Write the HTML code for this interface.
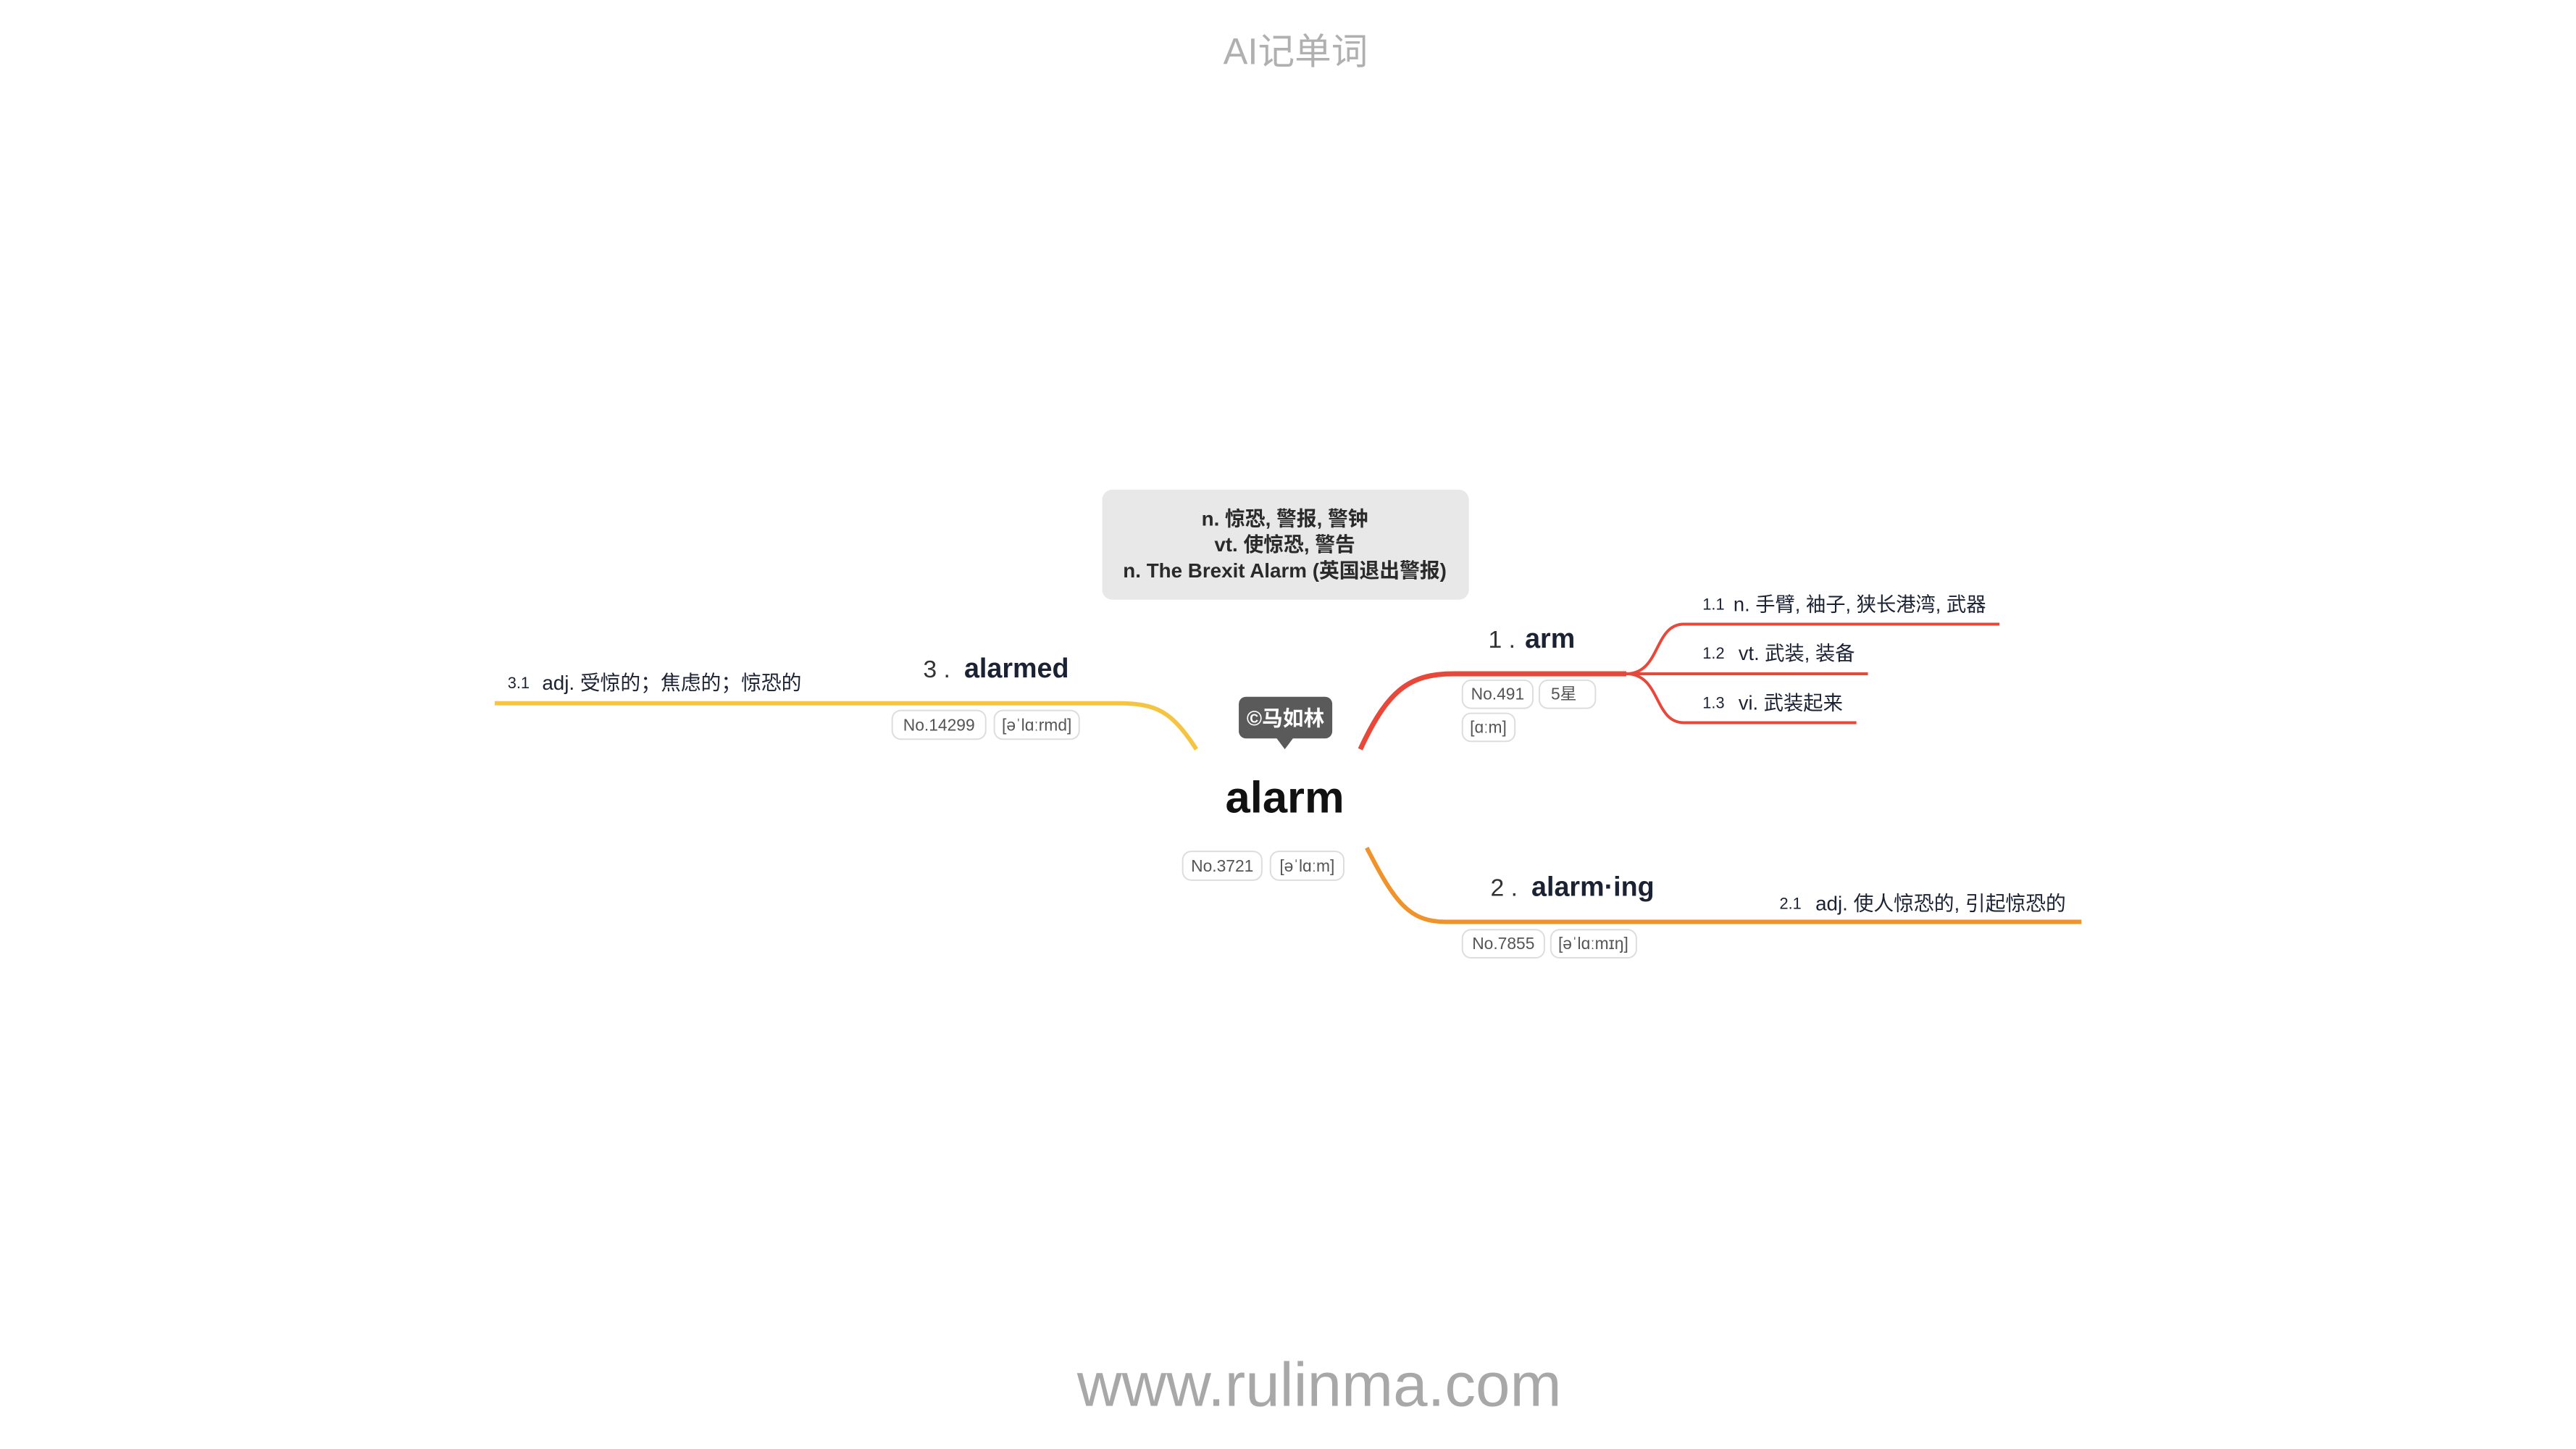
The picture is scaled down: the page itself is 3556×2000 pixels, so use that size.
<!DOCTYPE html>
<html><head><meta charset="utf-8"><style>
html,body{margin:0;padding:0;background:#fff;}
svg{display:block;}
text{font-family:"Liberation Sans","Noto Sans CJK SC",sans-serif;}
</style></head><body>
<svg width="3556" height="2000" viewBox="0 0 3556 2000" xmlns="http://www.w3.org/2000/svg">
<rect width="3556" height="2000" fill="#fff"/>
<g transform="scale(0.9925)">
<text x="1802" y="89" font-size="51" fill="#b0b0b0" text-anchor="middle">AI记单词</text>

<rect x="1533" y="681" width="510" height="153" rx="14" fill="#e8e8e8"/>
<g font-size="28" font-weight="bold" fill="#2a2a2a" text-anchor="middle">
<text x="1787" y="731">n. 惊恐, 警报, 警钟</text>
<text x="1787" y="767">vt. 使惊恐, 警告</text>
<text x="1787" y="803">n. The Brexit Alarm (英国退出警报)</text>
</g>

<rect x="1723" y="969" width="130" height="58" rx="10" fill="#5a5a5a"/>
<polygon points="1775,1026 1799,1026 1787,1042" fill="#5a5a5a"/>
<text x="1788" y="1009" font-size="29" font-weight="bold" fill="#fff" text-anchor="middle">©马如林</text>

<text x="1787" y="1130" font-size="62" font-weight="bold" fill="#111" text-anchor="middle">alarm</text>
<g font-size="23" fill="#555">
<rect x="1645" y="1184" width="110" height="40" rx="12" fill="#fff" stroke="#ddd" stroke-width="2"/>
<text x="1700" y="1212" text-anchor="middle">No.3721</text>
<rect x="1767" y="1184" width="102" height="40" rx="12" fill="#fff" stroke="#ddd" stroke-width="2"/>
<text x="1818" y="1212" text-anchor="middle">[əˈlɑːm]</text>
</g>

<path d="M1892,1042 C1930,960 1960,937 2022,937 L2262,937" fill="none" stroke="#e8473a" stroke-width="7"/>
<path d="M2262,937 C2310,937 2300,868 2342,868 L2781,868" fill="none" stroke="#e8473a" stroke-width="4"/>
<path d="M2262,937 L2598,937" fill="none" stroke="#e8473a" stroke-width="4"/>
<path d="M2262,937 C2310,937 2300,1005 2342,1005 L2582,1005" fill="none" stroke="#e8473a" stroke-width="4"/>
<text x="2070" y="901" font-size="34" fill="#333">1 .</text>
<text x="2121" y="901" font-size="38" font-weight="bold" fill="#1a2233">arm</text>
<g font-size="23" fill="#555">
<rect x="2034" y="946" width="98" height="39" rx="12" fill="#fff" stroke="#ddd" stroke-width="2"/>
<text x="2083" y="973" text-anchor="middle">No.491</text>
<rect x="2141" y="946" width="78" height="39" rx="12" fill="#fff" stroke="#ddd" stroke-width="2"/>
<text x="2175" y="973" text-anchor="middle">5星</text>
<rect x="2034" y="992" width="73" height="39" rx="12" fill="#fff" stroke="#ddd" stroke-width="2"/>
<text x="2070" y="1019" text-anchor="middle">[ɑːm]</text>
</g>
<g fill="#1a2233">
<text x="2368" y="848" font-size="22">1.1</text>
<text x="2411" y="850" font-size="27.5">n. 手臂, 袖子, 狭长港湾, 武器</text>
<text x="2368" y="916" font-size="22">1.2</text>
<text x="2418" y="918" font-size="27.5">vt. 武装, 装备</text>
<text x="2368" y="985" font-size="22">1.3</text>
<text x="2418" y="987" font-size="27.5">vi. 武装起来</text>
</g>

<path d="M1901,1179 C1940,1255 1960,1282 2011,1282 L2895,1282" fill="none" stroke="#f0932b" stroke-width="6"/>
<text x="2073" y="1246" font-size="34" fill="#333">2 .</text>
<text x="2130" y="1246" font-size="38" font-weight="bold" fill="#1a2233">alarm·ing</text>
<text x="2475" y="1264" font-size="22" fill="#1a2233">2.1</text>
<text x="2525" y="1266" font-size="28" fill="#1a2233">adj. 使人惊恐的, 引起惊恐的</text>
<g font-size="23" fill="#555">
<rect x="2034" y="1293" width="114" height="39" rx="12" fill="#fff" stroke="#ddd" stroke-width="2"/>
<text x="2091" y="1320" text-anchor="middle">No.7855</text>
<rect x="2157" y="1293" width="119" height="39" rx="12" fill="#fff" stroke="#ddd" stroke-width="2"/>
<text x="2216" y="1320" text-anchor="middle">[əˈlɑːmɪŋ]</text>
</g>

<path d="M1664,1042 C1630,990 1610,978 1554,978 L688,978" fill="none" stroke="#f5c542" stroke-width="6"/>
<text x="1284" y="942" font-size="34" fill="#333">3 .</text>
<text x="1341" y="942" font-size="38" font-weight="bold" fill="#1a2233">alarmed</text>
<text x="706" y="957" font-size="22" fill="#1a2233">3.1</text>
<text x="754" y="959" font-size="28" fill="#1a2233">adj. 受惊的；焦虑的；惊恐的</text>
<g font-size="23" fill="#555">
<rect x="1241" y="988" width="130" height="40" rx="12" fill="#fff" stroke="#ddd" stroke-width="2"/>
<text x="1306" y="1016" text-anchor="middle">No.14299</text>
<rect x="1383" y="988" width="118" height="40" rx="12" fill="#fff" stroke="#ddd" stroke-width="2"/>
<text x="1442" y="1016" text-anchor="middle">[əˈlɑːrmd]</text>
</g>

<text x="1835" y="1955" font-size="86" fill="#a8a8a8" text-anchor="middle">www.rulinma.com</text>
</g>
</svg>
</body></html>
